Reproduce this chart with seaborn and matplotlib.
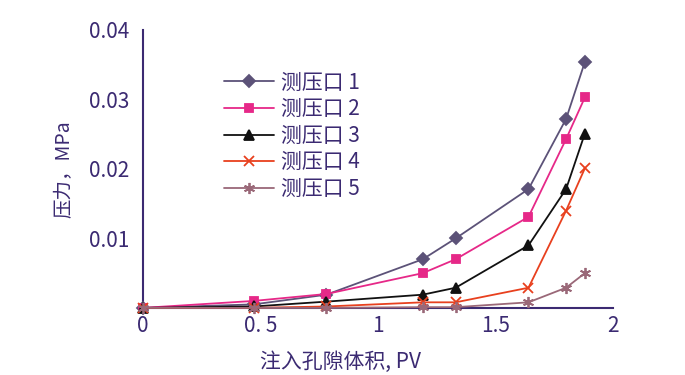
import matplotlib
matplotlib.use("Agg")
import matplotlib.pyplot as plt
import seaborn as sns
import pandas as pd

pv = [0, 0.47, 0.78, 1.19, 1.33, 1.64, 1.80, 1.88]
p1 = [0, 0.0005, 0.0019, 0.0070, 0.0100, 0.0171, 0.0272, 0.0354]
p2 = [0, 0.0010, 0.0020, 0.0050, 0.0070, 0.0131, 0.0243, 0.0303]
p3 = [0, 0.0002, 0.0009, 0.0019, 0.0029, 0.0090, 0.0171, 0.0251]
p4 = [0, 0.0000, 0.0002, 0.0008, 0.0008, 0.0029, 0.0140, 0.0201]
p5 = [0, 0.0000, 0.0000, 0.0001, 0.0001, 0.0008, 0.0029, 0.0050]
names = ["测压口 1", "测压口 2", "测压口 3", "测压口 4", "测压口 5"]
xticks = [0, 0.5, 1, 1.5, 2]
xticklabels = ["0", "0. 5", "1", "1.5", "2"]
yticks = [0.01, 0.02, 0.03, 0.04]
yticklabels = ["0.01", "0.02", "0.03", "0.04"]

colors = ["#5c5278", "#e62888", "#111111", "#e8401e", "#9a6878"]
markers = ["D", "s", "^", "x", (6, 2, 0)]
msizes = [6, 6, 7, 7, 8]

sns.set_style("white")
plt.rcParams["font.family"] = ["Noto Sans CJK SC", "DejaVu Sans"]
txt = "#3b2a72"

fig = plt.figure(figsize=(6.85, 3.75), dpi=100)
ax = fig.add_axes([0.209, 0.179, 0.686, 0.741])

series = [p1, p2, p3, p4, p5]
for name, vals, c, m, ms in zip(names, series, colors, markers, msizes):
    df = pd.DataFrame({"pv": pv, "p": vals})
    sns.lineplot(data=df, x="pv", y="p", ax=ax, color=c, marker=m, markersize=ms,
                 markeredgecolor=c, markerfacecolor=c, markeredgewidth=1.3,
                 linewidth=1.3, label=name, clip_on=False, zorder=3)

ax.set_xlim(0, 2)
ax.set_ylim(0, 0.04)
ax.set_xticks(xticks)
ax.set_xticklabels(xticklabels)
ax.set_yticks(yticks)
ax.set_yticklabels(yticklabels)
ax.tick_params(direction="in", length=5, width=1.2, color=txt, labelcolor=txt, labelsize=15)
ax.tick_params(axis="x", pad=5)
ax.tick_params(axis="y", pad=10)
for s in ["top", "right"]:
    ax.spines[s].set_visible(False)
for s in ["left", "bottom"]:
    ax.spines[s].set_color(txt)
    ax.spines[s].set_linewidth(1.5)

ax.set_xlabel("注入孔隙体积, PV", color=txt, fontsize=15)
ax.set_ylabel("压力，MPa", color=txt, fontsize=14)
ax.xaxis.set_label_coords(0.42, -0.155)
ax.yaxis.set_label_coords(-0.145, 0.5)

leg = ax.legend(loc="upper left", bbox_to_anchor=(0.155, 0.88), frameon=False,
                fontsize=15, handlelength=2.4, labelspacing=0.22, handletextpad=0.3,
                borderaxespad=0)
for t in leg.get_texts():
    t.set_color(txt)

fig.savefig("out.png", dpi=100)
